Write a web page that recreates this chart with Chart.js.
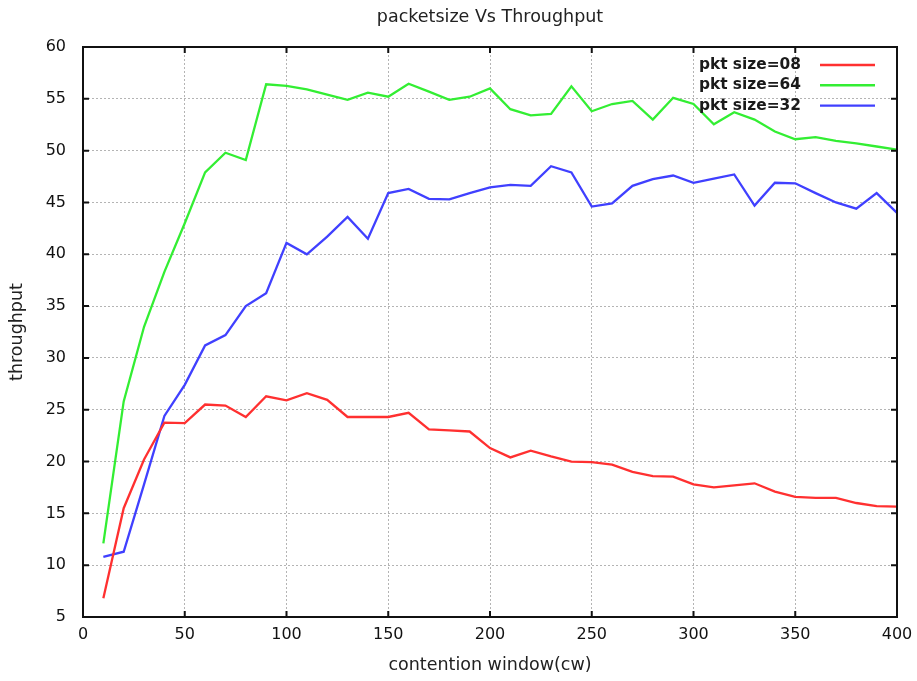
<!DOCTYPE html>
<html>
<head>
<meta charset="utf-8">
<script src="https://cdn.jsdelivr.net/npm/chart.js@4/dist/chart.umd.min.js"></script>
<style>
  html, body { margin: 0; padding: 0; background: #fff; }
  #wrap { width: 917px; height: 681px; }
</style>
</head>
<body>
<div id="wrap"><canvas id="c" width="917" height="681"></canvas></div>
<script>
const contentionWindow = [10,20,30,40,50,60,70,80,90,100,110,120,130,140,150,160,170,180,190,200,
  210,220,230,240,250,260,270,280,290,300,310,320,330,340,350,360,370,380,390,400];
const pkt08 = [6.8,15.5,20.2,23.75,23.7,25.5,25.4,24.3,26.3,25.9,26.6,25.95,24.3,24.3,24.3,24.7,23.1,23.0,22.9,21.3,
  20.4,21.05,20.5,20.0,19.95,19.7,19.0,18.6,18.55,17.8,17.5,17.7,17.9,17.1,16.6,16.5,16.5,16.0,15.7,15.65];
const pkt64 = [12.1,25.8,33.0,38.3,43.0,47.9,49.8,49.1,56.4,56.25,55.9,55.4,54.9,55.6,55.2,56.45,55.7,54.9,55.2,56.0,
  54.0,53.4,53.55,56.2,53.8,54.5,54.8,53.0,55.1,54.5,52.55,53.7,53.0,51.85,51.1,51.3,50.95,50.7,50.4,50.1];
const pkt32 = [10.8,11.3,17.8,24.4,27.4,31.2,32.2,35.0,36.25,41.1,40.0,41.7,43.6,41.5,45.9,46.3,45.35,45.3,45.9,46.45,
  46.7,46.6,48.5,47.9,44.6,44.9,46.6,47.25,47.6,46.9,47.3,47.7,44.7,46.9,46.85,45.9,45.0,44.4,45.9,44.0];
const seriesLabels = ['pkt size=08', 'pkt size=64', 'pkt size=32'];
const seriesColors = ['#ff3030', '#33ee33', '#4040ff'];
const xTicks = [0,50,100,150,200,250,300,350,400];
const yTicks = [5,10,15,20,25,30,35,40,45,50,55,60];
const chartTitle = 'packetsize Vs Throughput';

const FONT = '"DejaVu Sans", sans-serif';

function toXY(arr) { return arr.map((v, i) => ({ x: contentionWindow[i], y: v })); }

const frameAndLegend = {
  id: 'frameAndLegend',
  afterDatasetsDraw(chart) {
    const { ctx, chartArea: a, scales } = chart;
    ctx.save();
    // title centred over the plot area
    ctx.font = '17.5px ' + FONT;
    ctx.fillStyle = '#222';
    ctx.textAlign = 'center';
    ctx.textBaseline = 'middle';
    ctx.fillText(chartTitle, (a.left + a.right) / 2, 17);
    // frame
    ctx.strokeStyle = '#111';
    ctx.lineWidth = 2;
    ctx.strokeRect(a.left, a.top, a.right - a.left, a.bottom - a.top);
    // inner ticks
    ctx.beginPath();
    xTicks.forEach(v => {
      const px = scales.x.getPixelForValue(v);
      ctx.moveTo(px, a.bottom); ctx.lineTo(px, a.bottom - 6);
      ctx.moveTo(px, a.top); ctx.lineTo(px, a.top + 6);
    });
    yTicks.forEach(v => {
      const py = scales.y.getPixelForValue(v);
      ctx.moveTo(a.left, py); ctx.lineTo(a.left + 6, py);
      ctx.moveTo(a.right, py); ctx.lineTo(a.right - 6, py);
    });
    ctx.stroke();
    // legend
    ctx.font = 'bold 15.4px ' + FONT;
    ctx.textAlign = 'right';
    const textRight = a.right - 96;
    const lineL = a.right - 77, lineR = a.right - 22;
    chart.data.datasets.forEach((ds, i) => {
      const y = a.top + 18 + i * 20.3;
      ctx.fillStyle = '#1a1a1a';
      ctx.fillText(ds.label, textRight, y);
      ctx.strokeStyle = ds.borderColor;
      ctx.lineWidth = 2.4;
      ctx.beginPath();
      ctx.moveTo(lineL, y); ctx.lineTo(lineR, y);
      ctx.stroke();
    });
    ctx.restore();
  }
};

const datasets = [pkt08, pkt64, pkt32].map((arr, i) => ({
  label: seriesLabels[i],
  data: toXY(arr),
  borderColor: seriesColors[i],
  backgroundColor: seriesColors[i],
  borderWidth: 2.3,
  pointRadius: 0,
  tension: 0,
  fill: false
}));

new Chart(document.getElementById('c'), {
  type: 'line',
  data: { datasets },
  options: {
    responsive: false,
    animation: false,
    layout: { padding: { left: 0, right: 20, top: 47, bottom: 0 } },
    plugins: {
      legend: { display: false },
      tooltip: { enabled: false },
      title: { display: false }
    },
    scales: {
      x: {
        type: 'linear',
        min: 0, max: 400,
        afterBuildTicks: s => { s.ticks = xTicks.map(v => ({ value: v })); },
        afterFit: s => { s.height = 64; s.paddingLeft = 0; s.paddingRight = 0; },
        grid: { color: '#b4b4b4', lineWidth: 1, drawTicks: false },
        border: { display: true, color: 'rgba(0,0,0,0)', dash: [2, 2] },
        ticks: { color: '#111', font: { family: FONT, size: 16 }, padding: 8, maxRotation: 0 },
        title: { display: true, text: 'contention window(cw)', color: '#222',
                 font: { family: FONT, size: 17.5 }, padding: { top: 0, bottom: 5 } }
      },
      y: {
        type: 'linear',
        min: 5, max: 60,
        afterBuildTicks: s => { s.ticks = yTicks.map(v => ({ value: v })); },
        afterFit: s => { s.width = 83; s.paddingTop = 0; s.paddingBottom = 0; },
        grid: { color: '#b4b4b4', lineWidth: 1, drawTicks: false },
        border: { display: true, color: 'rgba(0,0,0,0)', dash: [2, 2] },
        ticks: { color: '#111', font: { family: FONT, size: 16 }, padding: 17 },
        title: { display: true, text: 'throughput', color: '#222',
                 font: { family: FONT, size: 17.5 }, padding: { top: 7, bottom: 0 } }
      }
    }
  },
  plugins: [frameAndLegend]
});
</script>
</body>
</html>
